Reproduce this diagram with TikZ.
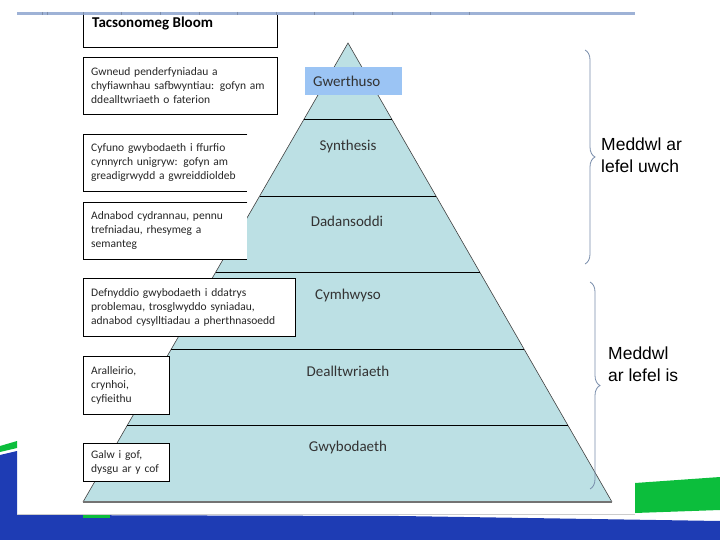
\documentclass[tikz,border=0pt]{standalone}
\usepackage{fontspec}
\setmainfont{Carlito}
\newfontfamily\bracefont{Liberation Sans}
\usetikzlibrary{calc,positioning,decorations.pathreplacing}

\definecolor{tierfill}{RGB}{188,224,228}
\definecolor{evalblue}{RGB}{155,196,244}
\definecolor{barblue}{RGB}{158,178,214}
\definecolor{bandblue}{RGB}{30,60,180}
\definecolor{leafgreen}{RGB}{12,190,60}
\definecolor{braceblue}{RGB}{120,140,170}

\tikzset{
  infobox/.style={draw, fill=white, anchor=north west, align=left, inner xsep=8pt, inner ysep=0pt,
    font=\fontsize{11.5}{14}\selectfont, text=black!85},
  openbox/.style={infobox, draw=none},
  tierlabel/.style={font=\fontsize{15}{18}\selectfont, text=black!80},
  levelbrace/.style={draw=braceblue, line width=0.8pt, decorate, decoration={brace, amplitude=10pt}},
  leveltext/.style={anchor=west, align=left, inner sep=0pt, font=\bracefont\fontsize{17.5}{22}\selectfont}
}

\begin{document}
\begin{tikzpicture}[x=1pt,y=-1pt]
  \useasboundingbox (0,0) rectangle (720,540);

  % slide background
  \fill[bandblue] (0,455) -- (17,451) -- (17,515) -- (400,516) -- (720,521) -- (720,540) -- (0,540) -- cycle;
  \fill[leafgreen] (0,446) -- (17,441) -- (17,448) -- (0,452) -- cycle;
  \fill[leafgreen] (635,483) -- (720,477) -- (720,510) -- (635,513) -- cycle;
  \fill[leafgreen] (83,515) rectangle (110,518);
  \draw[black!20, line width=0.5pt] (17,514) -- (635,514);

  % pyramid
  \coordinate (apex) at (348,43);
  \coordinate (bl) at (83,502);
  \coordinate (br) at (612,502);
  \fill[tierfill] (apex) -- (bl) -- (br) -- cycle;
  \draw[black!75, line width=0.6pt] (bl) -- (apex) -- (br);
  \draw[black!55, line width=1.5pt] (bl) -- (br);
  \foreach \k in {1,...,5}
    \draw[black, line width=0.7pt] ($(apex)!\k/6!(bl)$) -- ($(apex)!\k/6!(br)$);

  \node[tierlabel, fill=evalblue, anchor=north west, minimum height=28pt, text width=81pt,
    inner xsep=8pt, inner ysep=0pt, align=left] (gwerth) at (305,67) {Gwerthuso};
  \node[tierlabel] (synth) at (348,147) {Synthesis};
  \node[tierlabel] (dadan) at (347,221) {Dadansoddi};
  \node[tierlabel] (cymh) at (348,296) {Cymhwyso};
  \node[tierlabel] (deall) at (348,371) {Dealltwriaeth};
  \node[tierlabel] (gwyb) at (348,447) {Gwybodaeth};

  % left column
  \node[draw, anchor=north west, minimum width=194pt, minimum height=34pt, inner sep=0pt] (titlebox) at (83,13) {};
  \node[anchor=base west, inner sep=0pt, font=\fontsize{15}{18}\selectfont\bfseries] (title) at (92,27.5) {Tacsonomeg Bloom};

  \node[infobox, text width=178pt, minimum height=57pt] (evalbox) at (83,57)
    {Gwneud penderfyniadau a\\chyfiawnhau safbwyntiau: gofyn am\\ddealltwriaeth o faterion};
  \node[openbox, text width=148pt, minimum height=57pt] (synthbox) at (83,134)
    {Cyfuno gwybodaeth i ffurfio\\cynnyrch unigryw: gofyn am\\greadigrwydd a gwreiddioldeb};
  \draw (synthbox.north east) -- (synthbox.north west) -- (synthbox.south west) -- (synthbox.south east);
  \node[openbox, text width=148pt, minimum height=57pt] (dadanbox) at (83,202)
    {Adnabod cydrannau, pennu\\trefniadau, rhesymeg a\\semanteg};
  \draw (dadanbox.north east) -- (dadanbox.north west) -- (dadanbox.south west) -- (dadanbox.south east);
  \node[infobox, text width=196pt, minimum height=58pt] (cymhbox) at (83,278)
    {Defnyddio gwybodaeth i ddatrys\\problemau, trosglwyddo syniadau,\\adnabod cysylltiadau a pherthnasoedd};
  \node[infobox, text width=70pt, minimum height=58pt] (deallbox) at (83,356)
    {Aralleirio,\\crynhoi,\\cyfieithu};
  \node[infobox, text width=70pt, minimum height=38pt] (gwybbox) at (83,443)
    {Galw i gof,\\dysgu ar y cof};

  % top bar
  \fill[barblue] (17,12) rectangle (635,15);
  \foreach \i in {0,...,10}
    \draw[barblue!80!black, line width=0.4pt] (83+38.6*\i,12) -- ++(0,3);
  \draw[barblue!80!black, line width=0.4pt] (42,12) -- ++(0,3) (47,12) -- ++(0,3);

  % braces
  \coordinate (highTop) at (585,50);
  \coordinate (highBot) at (585,264);
  \coordinate (lowTop) at (590,282);
  \coordinate (lowBot) at (590,489);
  \draw[levelbrace] (highTop) -- (highBot);
  \draw[levelbrace] (lowTop) -- (lowBot);
  \node[leveltext] (highlabel) at (601,155) {Meddwl ar\\lefel uwch};
  \node[leveltext] (lowlabel) at (608,364) {Meddwl\\ar lefel is};
\end{tikzpicture}
\end{document}
